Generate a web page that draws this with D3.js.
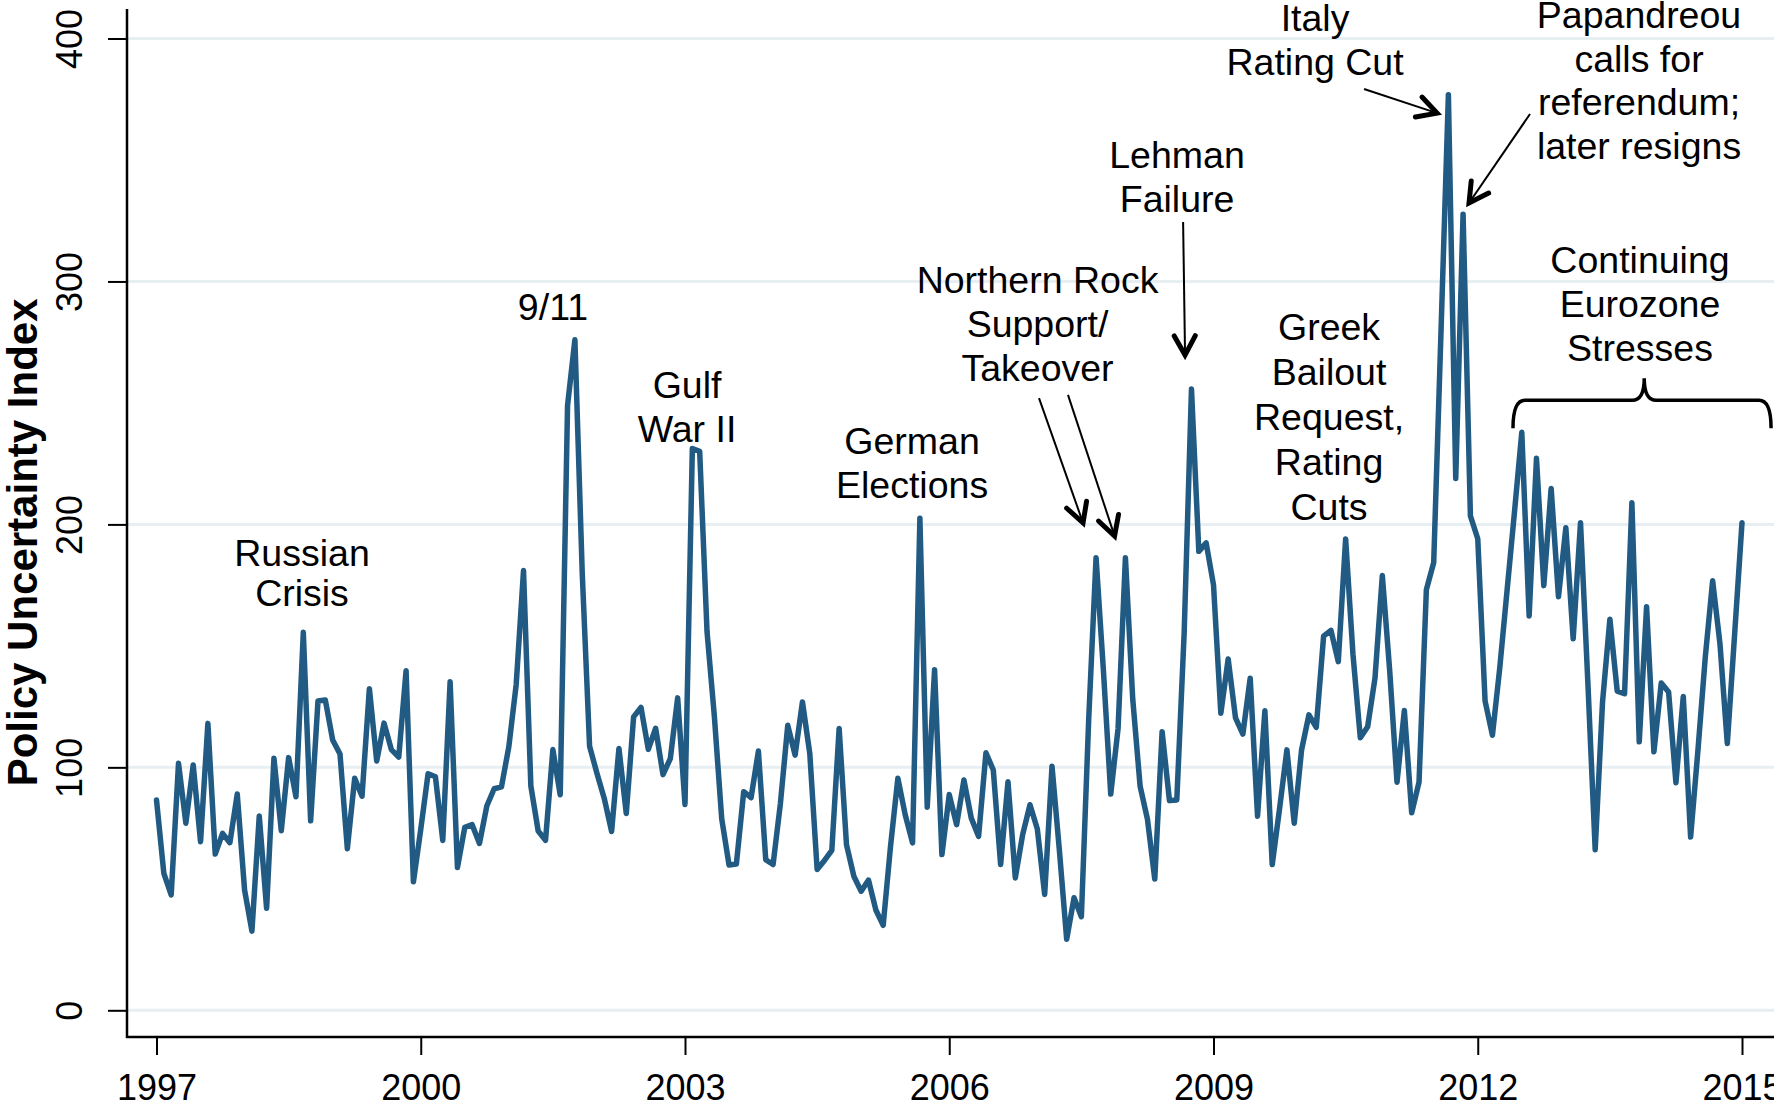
<!DOCTYPE html>
<html>
<head>
<meta charset="utf-8">
<script src="https://cdn.jsdelivr.net/npm/d3@7"></script>
<style>
  body { margin: 0; background: #ffffff; }
  svg text { font-family: "Liberation Sans", Arial, Helvetica, sans-serif; }
</style>
</head>
<body>
<svg id="chart" width="1774" height="1104"></svg>
<script>
// ---------------- DATA ----------------
const startYear = 1997;           // first monthly observation: Jan 1997
const values = [
  86.6, 56.4, 47.5, 101.7, 77, 101, 69.4, 118.1, 64.3, 72.8, 69, 89,          // 1997
  49.5, 32.6, 80, 42, 103.7, 73.9, 104, 87.9, 155.6, 78, 127.3, 127.7,        // 1998
  111.3, 105.5, 66.5, 95.5, 88.1, 132.4, 102.6, 118.2, 107.3, 104.2, 139.8, 52.9, // 1999
  74.5, 97.4, 96.1, 69.9, 135.2, 58.8, 75.3, 76.4, 68.7, 84.1, 91.2, 92,      // 2000
  108.5, 134, 181, 92.3, 73.8, 70, 107.3, 88.7, 249, 276, 180, 108.7,         // 2001
  97.6, 87.2, 73.6, 107.8, 81, 120.8, 124.7, 107.4, 116.1, 97, 103.6, 128.6,  // 2002
  84.7, 231.2, 230.1, 155.9, 121, 78.9, 59.8, 60.2, 90, 87.5, 106.7, 62,      // 2003
  60, 85.2, 117.3, 105, 126.9, 105.7, 58, 61.7, 65.8, 116, 68.2, 55.2,        // 2004
  49, 53.6, 41.3, 35, 67.5, 95.5, 80.5, 68.9, 202.5, 83.6, 140.2, 64.1,       // 2005
  88.8, 76.4, 94.8, 79.1, 71.6, 106, 98.9, 60, 94.1, 54.5, 72.3, 84.6,        // 2006
  74.6, 47.7, 100.5, 66, 29.2, 46.3, 38.5, 120, 186.3, 140, 89, 116,          // 2007
  186.3, 128, 92.3, 78.7, 54, 114.7, 86.3, 86.6, 155, 255.7, 188.9, 192.4,    // 2008
  175.1, 122.3, 144.6, 120.4, 113.7, 136.7, 79.9, 123.3, 60, 83, 107.2, 77,   // 2009
  107.2, 121.6, 116.5, 154, 156.4, 143.5, 194, 146.6, 112.2, 116.7, 136.7, 179, // 2010
  140, 93.9, 123.4, 81.3, 93.9, 173.1, 184.3, 280, 376.8, 218.9, 327.7, 203.5, // 2011
  194.1, 127.3, 113.2, 141, 173, 205, 237.9, 162.3, 227.2, 174.8, 214.8, 170.2, // 2012
  198.6, 152.9, 200.7, 135, 66.1, 126.9, 161, 131.4, 130.3, 208.9, 110.5, 166.1, // 2013
  106.4, 134.7, 131, 93.7, 129.2, 71.3, 107.1, 145.4, 176.8, 150.8, 109.8, 155, // 2014
  200.7                                                                        // Jan 2015
];
const xTickYears = [1997, 2000, 2003, 2006, 2009, 2012, 2015];
const yTickValues = [0, 100, 200, 300, 400];
const yTitle = "Policy Uncertainty Index";

const labelLines = [
  ["Russian", "Crisis"],
  ["9/11"],
  ["Gulf", "War II"],
  ["German", "Elections"],
  ["Northern Rock", "Support/", "Takeover"],
  ["Lehman", "Failure"],
  ["Greek", "Bailout", "Request,", "Rating", "Cuts"],
  ["Italy", "Rating Cut"],
  ["Papandreou", "calls for", "referendum;", "later resigns"],
  ["Continuing", "Eurozone", "Stresses"]
];

// ---------------- LAYOUT (positions in data units) ----------------
const labelAnchor = [
  [1998.652, 182.9], [2001.501, 284.1], [2003.023, 252.0], [2005.578, 229.0],
  [2007.002, 295.4], [2008.586, 346.7], [2010.312, 275.9], [2010.153, 403.1],
  [2013.831, 404.3], [2013.842, 303.5]
];
const labelSpacing = [40, 44, 44, 44, 44, 44, 45, 44, 43.5, 44];

const arrowSpecs = [ // [fromYear, fromVal, toYear, toVal]
  [2007.019, 252.0, 2007.519, 200.6],
  [2007.348, 253.3, 2007.877, 195.2],
  [2008.655, 324.5, 2008.677, 269.7],
  [2010.709, 379.2, 2011.538, 369.3],
  [2012.593, 368.9, 2011.901, 332.3]
];
const braceSpec = { x0: 2012.40, x1: 2015.33, xm: 2013.89, vLine: 251.1, vEnd: 239.6, vTip: 260.2 };

// ---------------- DRAW ----------------
const W = 1774, H = 1104;
const plotLeft = 127, plotBottom = 1037, plotTop = 9, plotRight = W;
const svg = d3.select("#chart");

const x = d3.scaleLinear().domain([1997, 2015]).range([156.5, 1742]);
const y = d3.scaleLinear().domain([0, 400]).range([1010.3, 38.5]);

const lineColor = "#215a82";
const gridColor = "#e7eff2";

// gridlines
svg.append("g").selectAll("line").data(yTickValues).join("line")
  .attr("x1", plotLeft).attr("x2", plotRight)
  .attr("y1", d => y(d)).attr("y2", d => y(d))
  .attr("stroke", gridColor).attr("stroke-width", 3);

// axes
const gx = svg.append("g").attr("transform", `translate(0,${plotBottom})`)
  .call(d3.axisBottom(x).tickValues(xTickYears).tickFormat(d3.format("d")).tickSize(18).tickSizeOuter(0));
gx.select(".domain").remove();
gx.selectAll(".tick line").attr("stroke", "#000").attr("stroke-width", 2);
gx.selectAll(".tick text").attr("y", 63).attr("dy", 0)
  .attr("font-size", 36).attr("fill", "#000")
  .style("font-family", '"Liberation Sans", Arial, sans-serif');

const gy = svg.append("g").attr("transform", `translate(${plotLeft},0)`)
  .call(d3.axisLeft(y).tickValues(yTickValues).tickFormat(d3.format("d")).tickSize(19).tickSizeOuter(0));
gy.select(".domain").remove();
gy.selectAll(".tick line").attr("stroke", "#000").attr("stroke-width", 2);
gy.selectAll(".tick text")
  .attr("x", 0).attr("y", 0).attr("dy", 0)
  .attr("text-anchor", "middle")
  .attr("transform", "translate(-45,0) rotate(-90)")
  .attr("font-size", 36).attr("fill", "#000")
  .style("font-family", '"Liberation Sans", Arial, sans-serif');

svg.append("line").attr("x1", plotLeft).attr("x2", plotLeft).attr("y1", plotTop).attr("y2", plotBottom + 1)
  .attr("stroke", "#000").attr("stroke-width", 2.5);
svg.append("line").attr("x1", plotLeft - 1).attr("x2", plotRight).attr("y1", plotBottom).attr("y2", plotBottom)
  .attr("stroke", "#000").attr("stroke-width", 2.5);

// y title
svg.append("text")
  .attr("transform", `translate(37,${(y(0) + y(400)) / 2 + 18}) rotate(-90)`)
  .attr("text-anchor", "middle")
  .attr("font-size", 42).attr("font-weight", "bold").attr("fill", "#000")
  .text(yTitle);

// series
const line = d3.line()
  .x((d, i) => x(startYear + i / 12))
  .y(d => y(d));
svg.append("path").datum(values)
  .attr("d", line)
  .attr("fill", "none")
  .attr("stroke", lineColor)
  .attr("stroke-width", 5.5)
  .attr("stroke-linejoin", "round")
  .attr("stroke-linecap", "round");

// annotation labels
labelLines.forEach((lines, k) => {
  const [ay, av] = labelAnchor[k];
  const t = svg.append("text")
    .attr("text-anchor", "middle")
    .attr("font-size", 37.5).attr("fill", "#000");
  lines.forEach((s, i) => {
    t.append("tspan").attr("x", x(ay)).attr("y", y(av) + i * labelSpacing[k]).text(s);
  });
});

// arrows
const arrowG = svg.append("g");
arrowSpecs.forEach(([fy, fv, ty, tv]) => {
  const x1 = x(fy), y1 = y(fv), x2 = x(ty), y2 = y(tv);
  arrowG.append("line").attr("x1", x1).attr("y1", y1).attr("x2", x2).attr("y2", y2)
    .attr("stroke", "#000").attr("stroke-width", 2);
  const ang = Math.atan2(y2 - y1, x2 - x1);
  const L = 22, spread = 0.5;
  const a1 = ang + Math.PI - spread, a2 = ang + Math.PI + spread;
  const p = `M${x2 + L * Math.cos(a1)},${y2 + L * Math.sin(a1)} L${x2},${y2} L${x2 + L * Math.cos(a2)},${y2 + L * Math.sin(a2)}`;
  arrowG.append("path").attr("d", p).attr("fill", "none")
    .attr("stroke", "#000").attr("stroke-width", 5)
    .attr("stroke-linejoin", "miter").attr("stroke-linecap", "round");
});

// brace
{
  const xL = x(braceSpec.x0), xR = x(braceSpec.x1), xM = x(braceSpec.xm);
  const yl = y(braceSpec.vLine), ye = y(braceSpec.vEnd), yt = y(braceSpec.vTip);
  const r = 12;
  const d = `M${xL},${ye} Q${xL},${yl} ${xL + r},${yl} L${xM - r},${yl} Q${xM},${yl} ${xM},${yt}` +
            ` M${xM},${yt} Q${xM},${yl} ${xM + r},${yl} L${xR - r},${yl} Q${xR},${yl} ${xR},${ye}`;
  svg.append("path").attr("d", d).attr("fill", "none")
    .attr("stroke", "#000").attr("stroke-width", 3.5);
}
</script>
</body>
</html>
